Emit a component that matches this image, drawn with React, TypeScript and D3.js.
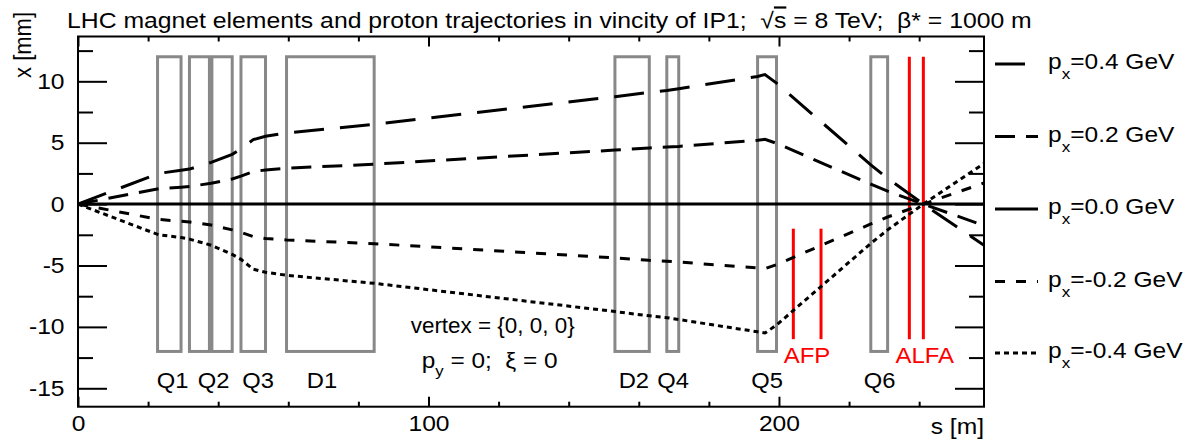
import React, { useRef, useEffect } from "react";
import * as d3 from "d3";

// beam position along s [m] where the trajectories were sampled
const sValues = [0, 23, 29.4, 31.8, 38, 44, 46.5, 50, 53.5, 59.5, 84.5, 153.2, 163, 168, 171.4, 193.9, 196, 199.3, 226.2, 231, 241.2, 258.5];

// horizontal offset x [mm] for each px
const xPx04 = [0, 2.5, 2.75, 2.85, 3.4, 4.05, 4.5, 5.25, 5.52, 5.8, 6.5, 8.75, 9.1, 9.25, 9.4, 10.4, 10.55, 9.85, 3.2, 2.1, 0, -3.35];
const xPx02 = [0, 1.25, 1.38, 1.43, 1.7, 2.05, 2.28, 2.65, 2.78, 2.92, 3.25, 4.4, 4.57, 4.65, 4.7, 5.2, 5.28, 4.95, 1.62, 1.05, 0, -1.75];
const xPx00 = [0, 0, 0, 0, 0, 0, 0, 0, 0, 0, 0, 0, 0, 0, 0, 0, 0, 0, 0, 0, 0, 0];
const xPxM02 = [0, -1.25, -1.4, -1.45, -1.7, -2.1, -2.3, -2.65, -2.8, -2.92, -3.22, -4.38, -4.58, -4.65, -4.72, -5.2, -5.25, -4.93, -1.62, -1.05, 0, 1.72];
const xPxM04 = [0, -2.5, -2.72, -2.85, -3.35, -4.1, -4.5, -5.3, -5.55, -5.8, -6.45, -8.75, -9.1, -9.25, -9.4, -10.4, -10.5, -9.85, -3.2, -2.1, 0, 3.3];

const seriesValues = [xPx04, xPx02, xPx00, xPxM02, xPxM04];
const seriesLabels = ["0.4", "0.2", "0.0", "-0.2", "-0.4"];
const seriesDash = ["30,16", "20,11", "none", "10,11", "5,4"];

// magnet elements (s start / end in m)
const magnetStart = [22.7, 31.8, 38.2, 46.5, 59.5, 153.2, 168.0, 193.9, 226.2];
const magnetEnd = [29.4, 37.5, 44.0, 53.5, 84.5, 163.0, 171.4, 199.3, 231.0];
const magnetAperture = 12;

const magnetLabels = ["Q1", "Q2", "Q3", "D1", "D2", "Q4", "Q5", "Q6"];
const magnetLabelPos = [27.0, 38.7, 51.4, 69.6, 158.6, 169.8, 196.6, 228.7];

// roman pot stations
const detectorNames = ["AFP", "ALFA"];
const detectorStations = [[204.1, 212.0], [237.2, 241.2]];
const detectorTop = [-2, 12];
const detectorBottom = [-11, -11];
const detectorLabelPos = [208.0, 241.6];

const xMajor = [0, 100, 200];
const xMinor = [20, 40, 60, 80, 120, 140, 160, 180, 220, 240];
const yMajor = [-15, -10, -5, 0, 5, 10];
const yMinor = [-12.5, -7.5, -2.5, 2.5, 7.5, 12.5];

const FONT = "'Liberation Sans', Arial, Helvetica, sans-serif";
const FS = 22;
const SX = 1.12; // the original text is a bit wider than Arial

function Txt({ x, y, sx = SX, anchor = "start", fill = "#000", size = FS, children }: any) {
  return (
    <text
      transform={`translate(${x},${y}) scale(${sx},1)`}
      textAnchor={anchor}
      fontSize={size}
      fill={fill}
      style={{ whiteSpace: "pre" }}
    >
      {children}
    </text>
  );
}

export default function App() {
  const axesRef = useRef<SVGGElement | null>(null);

  const width = 1191;
  const height = 444;
  const margin = { top: 36.5, right: 207, bottom: 37.3, left: 78 };
  const x0 = margin.left;
  const x1 = width - margin.right;
  const y0 = margin.top;
  const y1 = height - margin.bottom;

  const xScale = d3.scaleLinear().domain([0, 258.5]).range([x0, x1]);
  const yScale = d3.scaleLinear().domain([-16.5, 13.65]).range([y1, y0]);

  const line = d3
    .line<[number, number]>()
    .x((d) => xScale(d[0]))
    .y((d) => yScale(d[1]));

  useEffect(() => {
    if (!axesRef.current) return;
    const g = d3.select(axesRef.current);
    g.selectAll("*").remove();

    const style = (sel: any) => {
      sel.select(".domain").remove();
      sel.selectAll("line").attr("stroke-width", 2);
      sel.attr("font-size", FS).attr("font-family", FONT);
      sel.selectAll("text").attr("transform", `scale(${SX},1)`);
    };

    // left
    g.append("g")
      .attr("transform", `translate(${x0},0)`)
      .call(d3.axisLeft(yScale).tickValues(yMajor).tickSize(-29).tickPadding(12).tickFormat((d: any) => String(d)))
      .call(style);
    g.append("g")
      .attr("transform", `translate(${x0},0)`)
      .call(d3.axisLeft(yScale).tickValues(yMinor).tickSize(-15).tickFormat(() => ""))
      .call(style);
    // right
    g.append("g")
      .attr("transform", `translate(${x1},0)`)
      .call(d3.axisRight(yScale).tickValues(yMajor).tickSize(-29).tickFormat(() => ""))
      .call(style);
    g.append("g")
      .attr("transform", `translate(${x1},0)`)
      .call(d3.axisRight(yScale).tickValues(yMinor).tickSize(-15).tickFormat(() => ""))
      .call(style);
    // bottom
    g.append("g")
      .attr("transform", `translate(0,${y1})`)
      .call(d3.axisBottom(xScale).tickValues(xMajor).tickSize(-10).tickPadding(9).tickFormat((d: any) => String(d)))
      .call(style);
    g.append("g")
      .attr("transform", `translate(0,${y1})`)
      .call(d3.axisBottom(xScale).tickValues(xMinor).tickSize(-5).tickFormat(() => ""))
      .call(style);
    // top
    g.append("g")
      .attr("transform", `translate(0,${y0})`)
      .call(d3.axisTop(xScale).tickValues(xMajor).tickSize(-10).tickFormat(() => ""))
      .call(style);
    g.append("g")
      .attr("transform", `translate(0,${y0})`)
      .call(d3.axisTop(xScale).tickValues(xMinor).tickSize(-5).tickFormat(() => ""))
      .call(style);
  }, []);

  const legendY = [64, 136.5, 209, 281.5, 353];

  return (
    <svg
      width={width}
      height={height}
      style={{ position: "absolute", left: 0, top: 0, background: "#fff" }}
      fontFamily={FONT}
    >
      <defs>
        <clipPath id="frame-clip">
          <rect x={x0} y={y0} width={x1 - x0} height={y1 - y0} />
        </clipPath>
      </defs>

      <Txt x={67} y={28} sx={1.126}>
        {"LHC magnet elements and proton trajectories in vincity of IP1;  √"}
        <tspan style={{ textDecoration: "overline" }}>s</tspan>
        {" = 8 TeV;  β* = 1000 m"}
      </Txt>

      {/* magnets */}
      {magnetStart.map((s, i) => (
        <rect
          key={"m" + i}
          x={xScale(s)}
          y={yScale(magnetAperture)}
          width={xScale(magnetEnd[i]) - xScale(s)}
          height={yScale(-magnetAperture) - yScale(magnetAperture)}
          fill="none"
          stroke="#888"
          strokeWidth={3}
        />
      ))}
      {magnetLabels.map((name, i) => (
        <Txt key={"ml" + i} x={xScale(magnetLabelPos[i])} y={388} anchor="middle" sx={1.08}>
          {name}
        </Txt>
      ))}

      {/* detectors */}
      {detectorStations.map((st, i) =>
        st.map((s, j) => (
          <line
            key={"d" + i + j}
            x1={xScale(s)}
            x2={xScale(s)}
            y1={yScale(detectorTop[i])}
            y2={yScale(detectorBottom[i])}
            stroke="#ff0000"
            strokeWidth={3}
          />
        ))
      )}
      {detectorNames.map((name, i) => (
        <Txt key={"dl" + i} x={xScale(detectorLabelPos[i])} y={363} anchor="middle" fill="#ff0000" sx={1.09}>
          {name}
        </Txt>
      ))}

      {/* trajectories */}
      <g clipPath="url(#frame-clip)">
        {seriesValues.map((vals, i) => (
          <path
            key={"t" + i}
            d={line(sValues.map((s, k) => [s, vals[k]] as [number, number])) || ""}
            fill="none"
            stroke="#000"
            strokeWidth={3}
            strokeDasharray={seriesDash[i]}
          />
        ))}
      </g>

      <rect x={x0} y={y0} width={x1 - x0} height={y1 - y0} fill="none" stroke="#000" strokeWidth={2} />
      <g ref={axesRef} />

      {/* axis titles */}
      <Txt x={984} y={434} anchor="end">
        s [m]
      </Txt>
      <text
        transform={`translate(31,12) rotate(-90) scale(1,${SX})`}
        fontSize={FS}
        textAnchor="end"
      >
        x [mm]
      </text>

      {/* annotation */}
      <Txt x={410.7} y={333} sx={1.02}>
        {"vertex = {0, 0, 0}"}
      </Txt>
      <Txt x={421.7} y={368} sx={1.11}>
        p<tspan dy={8} fontSize={15}>y</tspan>
        <tspan dy={-8}>{" = 0;  ξ = 0"}</tspan>
      </Txt>

      {/* legend */}
      {seriesLabels.map((lab, i) => (
        <g key={"lg" + i}>
          <line
            x1={995}
            x2={1038}
            y1={legendY[i]}
            y2={legendY[i]}
            stroke="#000"
            strokeWidth={3}
            strokeDasharray={seriesDash[i]}
          />
          <Txt x={1048} y={legendY[i] + 5} size={21.5} sx={1.14}>
            p<tspan dy={10} fontSize={15}>x</tspan>
            <tspan dy={-10}>{"=" + lab + " GeV"}</tspan>
          </Txt>
        </g>
      ))}
    </svg>
  );
}
